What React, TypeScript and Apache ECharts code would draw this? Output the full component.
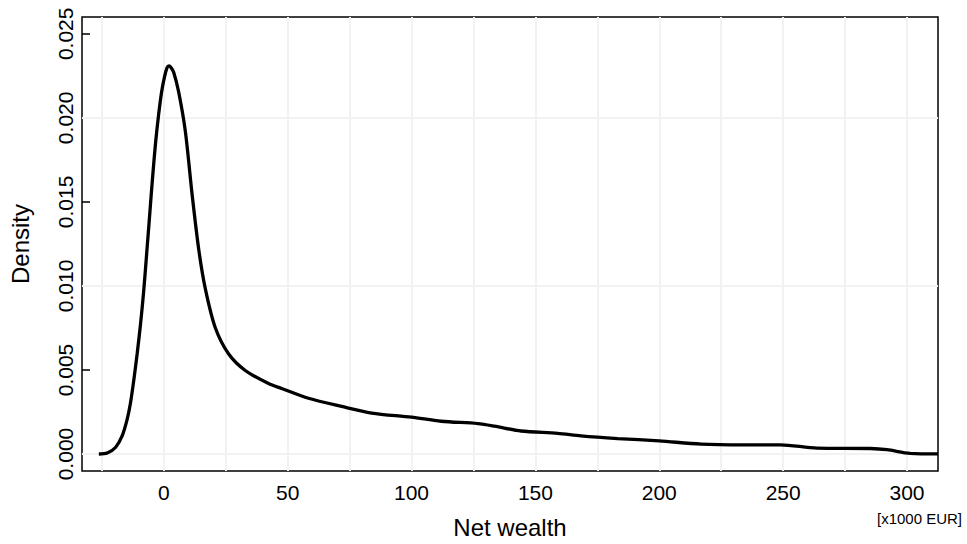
import React, { useEffect, useRef } from "react";
import * as echarts from "echarts";

// Net wealth [x1000 EUR]
const wealth: number[] = [
  -26.2, -22.8, -19.5, -16.8, -14.8, -13.45, -12.1, -10.75, -9.4, -8.1, -6.9,
  -5.7, -4.5, -3.3, -2.1, -0.9, 0.3, 1.3, 2.1, 2.9, 4.0, 6.0, 8.7, 11.4, 14.1,
  16.75, 20.8, 26.2, 32.9, 42.3, 47.6, 58.4, 71.8, 83.9, 100, 112, 126.8, 133.5,
  144.2, 159, 168.4, 183.2, 200, 216.9, 234.1, 248.9, 263.7, 285.2, 291.9,
  301.3, 312.5,
];
// Density
const density: number[] = [
  0, 0.00006, 0.00039, 0.00108, 0.00205, 0.00302, 0.00439, 0.00595, 0.0077,
  0.00969, 0.01192, 0.0142, 0.01648, 0.01852, 0.02016, 0.02151, 0.02244,
  0.02297, 0.02309, 0.023, 0.02272, 0.02155, 0.01921, 0.0155, 0.01219, 0.00985,
  0.00751, 0.00595, 0.00497, 0.00419, 0.0039, 0.00332, 0.00283, 0.00244,
  0.00219, 0.00195, 0.00181, 0.00166, 0.00137, 0.00123, 0.00108, 0.00092,
  0.00078, 0.00059, 0.00055, 0.00055, 0.00035, 0.00033, 0.00026, 0.00004,
  0.00001,
];

const xTicks: number[] = [0, 50, 100, 150, 200, 250, 300];
const xMinor: number[] = [-25, 25, 75, 125, 175, 225, 275];
const yTicks: number[] = [0, 0.005, 0.01, 0.015, 0.02, 0.025];
const yMinor: number[] = [0.0025, 0.0075, 0.0125, 0.0175, 0.0225];

const X_MIN = -33;
const X_MAX = 312.5;
const Y_MIN = -0.00101;
const Y_MAX = 0.026;

const FONT = "'Liberation Sans', Arial, Helvetica, sans-serif";

export default function App() {
  const ref = useRef<HTMLDivElement>(null);
  useEffect(() => {
    if (!ref.current) return;
    const chart = echarts.init(ref.current, undefined, { renderer: "svg" });
    const gridStyle = { color: "#f2f2f2", width: 2, type: "solid" as const };
    const gridLines = [
      ...[...xTicks, ...xMinor].map((v) => ({ xAxis: v })),
      ...[...yTicks, ...yMinor].map((v) => ({ yAxis: v })),
    ];
    chart.setOption({
      animation: false,
      backgroundColor: "#fff",
      textStyle: { fontFamily: FONT },
      grid: {
        left: 80,
        top: 17,
        right: 29,
        bottom: 65,
        show: true,
        borderColor: "#000",
        borderWidth: 1.5,
        containLabel: false,
      },
      xAxis: {
        type: "value",
        min: X_MIN,
        max: X_MAX,
        name: "Net wealth",
        nameLocation: "middle",
        nameGap: 44,
        nameTextStyle: { fontSize: 24, color: "#000", fontFamily: FONT },
        axisLine: { show: false, onZero: false },
        splitLine: { show: false },
        axisTick: {
          show: true,
          inside: true,
          length: 8,
          customValues: xTicks,
          lineStyle: { color: "#000", width: 1.5 },
        },
        axisLabel: {
          customValues: xTicks,
          fontSize: 21,
          color: "#000",
          margin: 11,
          fontFamily: FONT,
        },
      },
      yAxis: {
        type: "value",
        min: Y_MIN,
        max: Y_MAX,
        name: "Density",
        nameLocation: "middle",
        nameRotate: 90,
        nameGap: 50,
        nameTextStyle: { fontSize: 24, color: "#000", fontFamily: FONT },
        axisLine: { show: false, onZero: false },
        splitLine: { show: false },
        axisTick: {
          show: true,
          inside: true,
          length: 8,
          customValues: yTicks,
          lineStyle: { color: "#000", width: 1.5 },
        },
        axisLabel: {
          customValues: yTicks,
          rotate: 90,
          fontSize: 21,
          color: "#000",
          margin: 6,
          fontFamily: FONT,
          formatter: (v: number) => v.toFixed(3),
        },
      },
      graphic: [
        {
          type: "text",
          left: 877,
          top: 511,
          style: {
            text: "[x1000 EUR]",
            fontSize: 15,
            fill: "#000",
            fontFamily: FONT,
          },
        },
      ],
      series: [
        {
          type: "line",
          data: [],
          z: 1,
          silent: true,
          markLine: {
            silent: true,
            symbol: "none",
            label: { show: false },
            lineStyle: gridStyle,
            emphasis: { disabled: true },
            data: gridLines,
          },
        },
        {
          type: "line",
          z: 5,
          data: wealth.map((x, i) => [x, density[i]]),
          showSymbol: false,
          smooth: 0.3,
          lineStyle: { color: "#000", width: 3.3 },
          silent: true,
        },
      ],
    });
    return () => chart.dispose();
  }, []);
  return (
    <div
      ref={ref}
      style={{ position: "fixed", left: 0, top: 0, width: 967, height: 544 }}
    />
  );
}
